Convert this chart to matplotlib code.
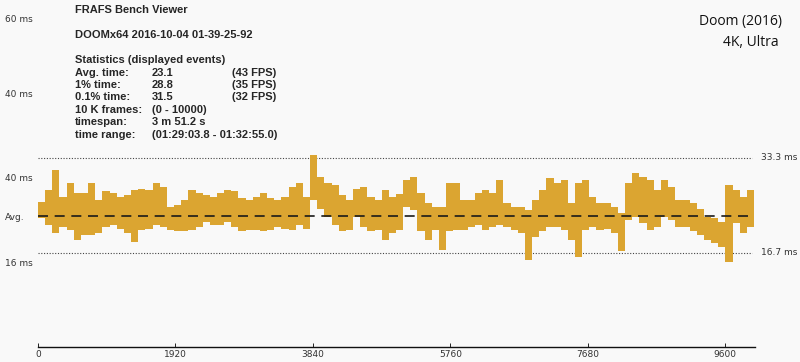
import numpy as np
import matplotlib
matplotlib.use('Agg')
import matplotlib.pyplot as plt

# frame time envelope per 100-frame bin (ms)
bin_size = 100
frame_hi = [25.6, 27.6, 31.1, 26.5, 28.8, 27.1, 27.1, 28.8, 25.9, 27.4,
            27.2, 26.5, 26.8, 27.6, 27.9, 27.6, 28.8, 28.2, 24.7, 25.0,
            25.9, 27.6, 27.1, 26.8, 26.5, 27.1, 27.6, 27.4, 26.2, 25.9,
            26.5, 27.1, 26.2, 25.9, 26.5, 28.2, 28.8, 26.5, 33.8, 30.0,
            28.8, 28.5, 26.8, 25.9, 27.9, 28.2, 26.5, 25.9, 27.6, 26.5,
            27.0, 29.4, 30.0, 27.1, 25.3, 24.7, 24.7, 28.8, 28.8, 25.9,
            25.9, 27.1, 27.6, 27.1, 29.4, 25.3, 24.7, 24.7, 24.2, 25.9,
            27.6, 29.7, 28.8, 29.4, 25.3, 28.8, 29.4, 26.5, 25.3, 25.3,
            24.7, 23.6, 28.8, 30.6, 30.0, 29.4, 27.6, 29.4, 28.2, 25.9,
            25.9, 25.3, 24.4, 23.0, 22.7, 22.1, 28.5, 27.6, 26.5, 27.6]
frame_lo = [22.7, 21.5, 20.1, 21.2, 20.6, 18.9, 19.8, 19.8, 20.1, 21.2,
            21.5, 20.9, 20.1, 18.6, 20.6, 20.9, 21.5, 21.2, 20.6, 20.4,
            20.4, 20.6, 21.2, 22.1, 21.5, 21.5, 22.1, 21.2, 20.4, 20.6,
            20.6, 20.4, 20.6, 21.2, 20.9, 20.6, 21.5, 20.9, 25.9, 24.4,
            23.0, 21.5, 20.4, 20.6, 23.0, 21.2, 20.4, 20.6, 18.9, 20.1,
            20.6, 24.7, 24.2, 20.4, 18.9, 20.6, 17.2, 20.4, 20.6, 20.6,
            21.2, 21.5, 20.6, 21.2, 21.5, 21.2, 20.6, 20.1, 15.4, 19.5,
            20.4, 21.2, 21.2, 20.6, 18.9, 16.0, 20.6, 21.2, 20.6, 20.9,
            20.1, 16.9, 22.4, 23.0, 21.8, 20.6, 21.2, 23.0, 22.4, 21.2,
            21.2, 20.4, 19.8, 18.9, 18.3, 17.7, 15.1, 21.8, 20.1, 21.2]

avg_ms = 23.1
ref_lines = [33.3, 16.7]
ref_labels = ['33.3 ms', '16.7 ms']
left_ticks = [57.75, 44.6, 29.9, 23.1, 14.9]
left_labels = ['60 ms', '40 ms', '40 ms', 'Avg.', '16 ms']
x_ticks = [0, 1920, 3840, 5760, 7680, 9600]

stats_rows = [('Avg. time:', '23.1', '(43 FPS)'),
              ('1% time:', '28.8', '(35 FPS)'),
              ('0.1% time:', '31.5', '(32 FPS)'),
              ('10 K frames:', '(0 - 10000)', ''),
              ('timespan:', '3 m 51.2 s', ''),
              ('time range:', '(01:29:03.8 - 01:32:55.0)', '')]

W, H = 800, 362
bg = '#f9f9f9'
gold = '#dba531'

fig = plt.figure(figsize=(W / 100, H / 100), dpi=100, facecolor=bg)
ax = fig.add_axes([38 / W, 15 / H, 717 / W, 347 / H], facecolor=bg)
ax.set_xlim(0, 10014)
ax.set_ylim(0.18, 60.9)

lo = np.array(frame_lo)
hi = np.array(frame_hi)
xc = np.arange(len(lo)) * bin_size + bin_size / 2
ax.bar(xc, hi - lo, bottom=lo, width=bin_size, color=gold, linewidth=0, zorder=2)

ax.hlines(avg_ms, 0, 10000, colors='#1a1a1a', linestyles=(0, (6, 4)), lw=1.2, zorder=3)
for v, lab in zip(ref_lines, ref_labels):
    ax.hlines(v, 0, 9970, colors='#444444', linestyles=(0, (1, 1.5)), lw=0.8, zorder=1)
    ax.text(10100, v, lab, fontsize=6.5, color='#333333', va='center', ha='left', clip_on=False)

for s in ['top', 'right', 'left']:
    ax.spines[s].set_visible(False)
ax.spines['bottom'].set_color('#111111')
ax.spines['bottom'].set_linewidth(1.0)

ax.set_xticks(x_ticks)
ax.set_xticklabels([str(t) for t in x_ticks])
ax.tick_params(axis='x', direction='in', length=3, width=0.6, labelsize=6.5,
               labelcolor='#333333', pad=2)

ax.set_yticks(left_ticks)
ax.set_yticklabels(left_labels)
ax.tick_params(axis='y', length=0, labelsize=6.5, labelcolor='#333333', pad=24)
for t in ax.get_yticklabels():
    t.set_ha('left')

# stats panel
tc = '#262626'
fnt = dict(family='Liberation Sans', weight='bold', fontsize=8, color=tc, va='center')
fig.text(75 / W, 1 - 10 / H, 'FRAFS Bench Viewer', **fnt)
fig.text(75 / W, 1 - 35 / H, 'DOOMx64 2016-10-04 01-39-25-92', **fnt)
fig.text(75 / W, 1 - 60 / H, 'Statistics (displayed events)', **fnt)
for i, (a, b, c) in enumerate(stats_rows):
    y = 1 - (72.5 + i * 12.4) / H
    fig.text(75 / W, y, a, **fnt)
    fig.text(152 / W, y, b, **fnt)
    if c:
        fig.text(232 / W, y, c, **fnt)

fig.text(782 / W, 1 - 22 / H, 'Doom (2016)', family='Open Sans', fontsize=10,
         color='#111111', ha='right', va='center')
fig.text(779 / W, 1 - 43 / H, '4K, Ultra', family='Open Sans', fontsize=10,
         color='#111111', ha='right', va='center')

fig.savefig('out.png', dpi=100, facecolor=bg)
